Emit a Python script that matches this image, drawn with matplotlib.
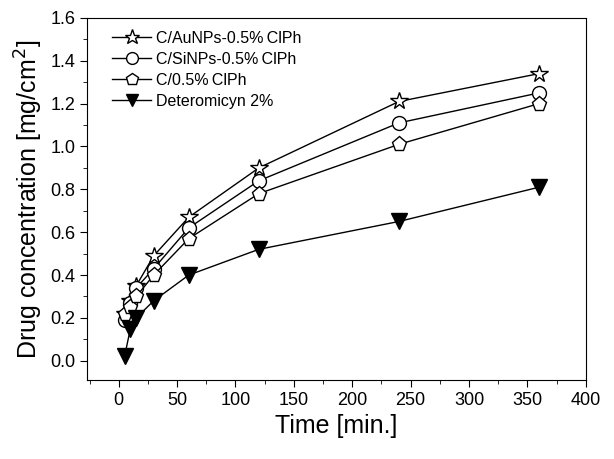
import matplotlib.pyplot as plt
from matplotlib.ticker import MultipleLocator

plt.rcParams['font.family'] = ['Liberation Sans', 'DejaVu Sans']

time = [5, 10, 15, 30, 60, 120, 240, 360]
au_nps = [0.22, 0.28, 0.35, 0.49, 0.67, 0.90, 1.21, 1.34]
si_nps = [0.19, 0.27, 0.34, 0.43, 0.62, 0.84, 1.11, 1.25]
clph = [0.22, 0.25, 0.30, 0.40, 0.57, 0.78, 1.01, 1.20]
deteromicyn = [0.02, 0.15, 0.20, 0.28, 0.40, 0.52, 0.65, 0.81]

labels = ['C/AuNPs-0.5%\u2009ClPh', 'C/SiNPs-0.5%\u2009ClPh', 'C/0.5%\u2009ClPh', 'Deteromicyn 2%']

fig = plt.figure(figsize=(6.14, 4.59), dpi=100)
ax = fig.add_axes([0.142, 0.172, 0.812, 0.789])

ax.plot(time, au_nps, color='black', lw=1, marker='*', ms=13, mfc='white', mec='black', mew=1, label=labels[0])
ax.plot(time, si_nps, color='black', lw=1, marker='o', ms=10, mfc='white', mec='black', mew=1, label=labels[1])
ax.plot(time, clph, color='black', lw=1, marker='p', ms=11, mfc='white', mec='black', mew=1, label=labels[2])
ax.plot(time, deteromicyn, color='black', lw=1, marker='v', ms=11, mfc='black', mec='black', label=labels[3])

ax.set_xlim(-27, 400)
ax.set_ylim(-0.09, 1.6)
ax.xaxis.set_major_locator(MultipleLocator(50))
ax.xaxis.set_minor_locator(MultipleLocator(25))
ax.yaxis.set_major_locator(MultipleLocator(0.2))
ax.yaxis.set_minor_locator(MultipleLocator(0.1))
ax.yaxis.set_major_formatter(plt.FormatStrFormatter('%.1f'))
ax.tick_params(which='major', direction='out', length=5, labelsize=13)
ax.tick_params(which='minor', direction='out', length=3)

ax.set_xlabel('Time [min.]', fontsize=18)
ax.set_ylabel('Drug concentration [mg/cm$^2$]', fontsize=18)

ax.legend(loc='upper left', bbox_to_anchor=(0.025, 1.0), frameon=False, fontsize=11.5,
          handlelength=2.4, handletextpad=0.3, labelspacing=0.38, borderaxespad=0.4,
          markerscale=0.85)

fig.savefig('out.png', dpi=100)
